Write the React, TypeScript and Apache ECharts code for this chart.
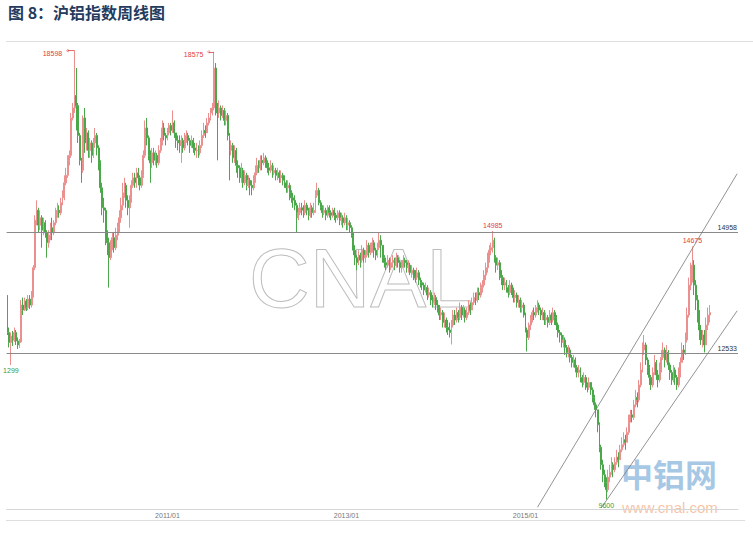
import React, { useEffect, useRef } from 'react';
import * as echarts from 'echarts';

const START_UTC = Date.UTC(2009, 2, 27);
const CATEGORY_COUNT = 425;
const tickLabels = ['2011/01', '2013/01', '2015/01'];
const firstOpen = 13500;

const closes = [
  12950, 12750, 12880, 12800, 12950, 12780, 12700, 12760, 13500, 13400,
  13580, 13450, 13620, 13500, 13700, 14250, 15200, 15400, 15100, 15250,
  15000, 15150, 14950, 14750, 14900, 15050, 14950, 15150, 15300, 15400,
  15350, 15550, 15650, 15950, 16100, 16400, 16500, 17250, 17450, 17700,
  17500, 16900, 16400, 16200, 17250, 16750, 16950, 16600, 16750, 16500,
  16750, 16900, 16650, 16350, 15850, 15450, 15400, 14800, 14750, 14450,
  14700, 14850, 14650, 14900, 15050, 15250, 15500, 15750, 15900, 15600,
  15450, 15650, 15900, 16050, 15950, 16150, 16050, 15900, 16100, 16500,
  17050, 16850, 16500, 16350, 16550, 16400, 16500, 16350, 16600, 16750,
  17050, 16900, 16850, 16950, 17100, 17000, 17150, 16950, 16800, 16750,
  16700, 16800, 16650, 16850, 16900, 16800, 16700, 16800, 16650, 16600,
  16600, 16550, 16700, 16900, 17000, 16950, 17150, 17250, 17350, 17450,
  18250, 17450, 17350, 17450, 17300, 17400, 17200, 17300, 16900, 16600,
  16700, 16450, 16600, 16300, 16250, 16050, 16200, 15950, 16100, 15900,
  16000, 15900, 15850, 16000, 16150, 16300, 16250, 16400, 16350, 16450,
  16350, 16250, 16200, 16300, 16150, 16200, 16100, 16150, 16050, 16100,
  16000, 15950, 15850, 15900, 15750, 15650, 15600, 15500, 15250, 15350,
  15450, 15400, 15350, 15500, 15400, 15300, 15450, 15350, 15400, 15700,
  15800, 15550, 15450, 15350, 15400, 15300, 15450, 15350, 15300, 15400,
  15300, 15250, 15350, 15200, 15250, 15150, 15250, 15100, 15150, 15050,
  14900, 14600, 14450, 14350, 14500, 14400, 14600, 14450, 14500, 14700,
  14550, 14650, 14750, 14600, 14500, 14650, 14800, 14700, 14450, 14350,
  14300, 14400, 14250, 14350, 14400, 14300, 14450, 14350, 14250, 14300,
  14400, 14350, 14250, 14300, 14150, 14200, 14100, 14050, 14150, 14000,
  13950, 13900, 13800, 13850, 13700, 13750, 13600, 13550, 13650, 13500,
  13450, 13300, 13350, 13150, 13200, 13050, 13000, 12950, 13100, 13300,
  13200, 13350, 13250, 13450, 13300, 13400, 13250, 13350, 13500, 13400,
  13550, 13650, 13600, 13750, 13700, 13850, 13900, 14100, 14250, 14400,
  14600, 14650, 14800, 14450, 14300, 14350, 14100, 14050, 13900, 13950,
  13850, 13750, 13900, 13800, 13650, 13700, 13550, 13600, 13450, 13500,
  13300, 13000, 12850, 13100, 13200, 13350, 13300, 13450, 13500, 13400,
  13300, 13350, 13200, 13250, 13150, 13300, 13200, 13350, 13250, 13100,
  12950, 12900, 12750, 12800, 12650, 12550, 12600, 12450, 12350, 12400,
  12250, 12150, 12200, 12050, 11950, 12050, 11900, 11850, 11950, 11800,
  11650, 11500, 11400, 11100, 10650, 10300, 10100, 9950, 9800, 10050,
  10150, 10300, 10200, 10350, 10450, 10400, 10600, 10700, 10800, 10750,
  10950, 11150, 11300, 11250, 11500, 11650, 11600, 11900, 12200, 12600,
  12700, 12400, 12250, 12050, 11900, 12150, 12350, 12100, 12000, 12200,
  12450, 12600, 12400, 12550, 12300, 12150, 12000, 12200, 12050, 11900,
  12100, 12350, 12600, 12550, 12800, 13300, 13900, 14100, 14300, 13900,
  13600, 13300, 13000, 12800, 12900, 12700, 13100, 13300, 13350,
];

const highs = [
  13700, 13050, 12950, 12980, 13050, 13000, 12850, 12820, 13600, 13650,
  13650, 13620, 13700, 13700, 13780, 14300, 15300, 15600, 15450, 15400,
  15300, 15250, 15200, 15000, 15000, 15150, 15250, 15200, 15450, 15550,
  15500, 15650, 15800, 16100, 16250, 16500, 16600, 17350, 17550, 18598,
  18250, 17550, 16950, 16450, 17300, 17450, 17050, 17000, 16850, 16800,
  16850, 17050, 16950, 16700, 16400, 15950, 15650, 15450, 15000, 14850,
  14800, 14950, 14950, 15050, 15150, 15400, 15650, 15950, 16050, 15950,
  15700, 15700, 16000, 16150, 16150, 16250, 16250, 16100, 16200, 16600,
  17200, 17250, 16900, 16600, 16650, 16650, 16600, 16550, 16700, 16850,
  17200, 17150, 16950, 17050, 17150, 17150, 17400, 17200, 16950, 16900,
  16900, 16900, 16850, 16950, 17000, 16950, 16850, 16900, 16850, 16750,
  16750, 16700, 16800, 17000, 17150, 17100, 17250, 17350, 17450, 17550,
  18575, 18350, 17550, 17600, 17500, 17500, 17450, 17400, 17350, 16950,
  16800, 16750, 16700, 16650, 16400, 16300, 16350, 16250, 16200, 16150,
  16100, 16050, 16000, 16100, 16300, 16450, 16400, 16500, 16500, 16550,
  16500, 16400, 16350, 16400, 16350, 16300, 16250, 16250, 16200, 16200,
  16150, 16100, 16000, 16000, 15950, 15800, 15750, 15700, 15550, 15450,
  15550, 15550, 15500, 15600, 15550, 15450, 15550, 15500, 15550, 15800,
  15950, 15850, 15600, 15500, 15500, 15450, 15500, 15500, 15400, 15450,
  15450, 15350, 15400, 15400, 15350, 15300, 15350, 15300, 15250, 15200,
  15100, 14950, 14700, 14500, 14600, 14550, 14700, 14650, 14600, 14800,
  14750, 14750, 14850, 14800, 14650, 14750, 14950, 14900, 14700, 14500,
  14450, 14500, 14450, 14450, 14500, 14450, 14550, 14500, 14400, 14400,
  14500, 14450, 14400, 14400, 14350, 14300, 14250, 14200, 14250, 14200,
  14050, 14000, 13950, 13950, 13900, 13850, 13800, 13700, 13750, 13700,
  13600, 13500, 13450, 13400, 13350, 13250, 13200, 13150, 13200, 13400,
  13400, 13450, 13400, 13550, 13500, 13500, 13450, 13450, 13600, 13550,
  13650, 13750, 13750, 13850, 13850, 13950, 14000, 14200, 14350, 14550,
  14700, 14750, 14985, 14850, 14500, 14450, 14400, 14200, 14100, 14050,
  14000, 13900, 14000, 13950, 13850, 13800, 13750, 13700, 13650, 13600,
  13550, 13350, 13050, 13150, 13300, 13400, 13450, 13500, 13600, 13550,
  13450, 13450, 13400, 13350, 13300, 13400, 13350, 13450, 13400, 13300,
  13150, 13000, 12950, 12900, 12850, 12700, 12700, 12650, 12500, 12500,
  12450, 12300, 12300, 12250, 12100, 12150, 12100, 11950, 12050, 11950,
  11850, 11700, 11550, 11400, 11150, 10700, 10400, 10200, 10050, 10200,
  10300, 10450, 10350, 10450, 10600, 10550, 10700, 10850, 10950, 10900,
  11050, 11300, 11400, 11400, 11600, 11800, 11750, 12000, 12350, 12750,
  12900, 12750, 12450, 12300, 12100, 12250, 12500, 12400, 12200, 12350,
  12600, 12750, 12650, 12700, 12600, 12350, 12200, 12300, 12250, 12100,
  12250, 12450, 12750, 12700, 12950, 13450, 14050, 14350, 14675, 14400,
  14000, 13700, 13400, 13100, 13000, 13000, 13250, 13450, 13500,
];

const lows = [
  12900, 12650, 12299, 12680, 12760, 12700, 12620, 12640, 12740, 13300,
  13380, 13380, 13400, 13420, 13450, 13650, 14200, 15100, 14950, 15000,
  14650, 14900, 14850, 14450, 14650, 14800, 14800, 14900, 15100, 15250,
  15250, 15300, 15500, 15600, 15900, 16050, 16300, 16450, 17200, 17350,
  17000, 16750, 16300, 15950, 16150, 16550, 16600, 16450, 16450, 16350,
  16450, 16650, 16500, 16200, 15750, 15300, 15150, 14700, 14500, 13850,
  14400, 14600, 14550, 14600, 14800, 14950, 15150, 15400, 15650, 15450,
  15300, 15050, 15550, 15850, 15850, 15850, 15900, 15800, 15850, 16050,
  16450, 16700, 16400, 15950, 16250, 16300, 16300, 16250, 16300, 16550,
  16700, 16800, 16700, 16800, 16900, 16900, 16950, 16850, 16650, 16600,
  16550, 16350, 16550, 16600, 16750, 16700, 16550, 16650, 16550, 16500,
  16450, 16450, 16500, 16650, 16850, 16850, 16950, 17100, 17200, 17300,
  17400, 17300, 16400, 17250, 17200, 17250, 17100, 17100, 16800, 16000,
  16500, 16350, 16350, 16150, 16050, 15950, 15950, 15850, 15900, 15800,
  15850, 15700, 15700, 15800, 15950, 16100, 16150, 16200, 16200, 16300,
  16250, 16150, 16100, 16150, 16050, 16100, 16000, 16000, 15950, 15950,
  15900, 15850, 15750, 15750, 15600, 15550, 15450, 15400, 14950, 15200,
  15300, 15300, 15250, 15300, 15300, 15200, 15250, 15250, 15300, 15350,
  15650, 15500, 15400, 15250, 15300, 15200, 15250, 15250, 15200, 15250,
  15200, 15150, 15200, 15100, 15100, 15050, 15100, 15000, 15000, 14950,
  14850, 14500, 14300, 14200, 14300, 14250, 14350, 14350, 14350, 14450,
  14450, 14500, 14550, 14450, 14400, 14450, 14600, 14450, 14350, 14250,
  14200, 14250, 14150, 14200, 14250, 14200, 14250, 14250, 14150, 14150,
  14250, 14250, 14150, 14150, 14100, 14050, 14000, 13950, 14000, 13900,
  13850, 13800, 13700, 13750, 13600, 13650, 13500, 13450, 13500, 13400,
  13350, 13200, 13200, 13050, 13050, 12950, 12900, 12850, 12710, 13050,
  13100, 13150, 13150, 13200, 13200, 13250, 13150, 13200, 13300, 13300,
  13450, 13500, 13500, 13550, 13600, 13650, 13750, 13850, 14000, 14150,
  14350, 14500, 14550, 14350, 14150, 14200, 14000, 13900, 13800, 13800,
  13750, 13650, 13700, 13700, 13550, 13550, 13450, 13450, 13350, 13350,
  13250, 12950, 12570, 12800, 13000, 13150, 13200, 13250, 13350, 13300,
  13200, 13200, 13100, 13100, 13050, 13100, 13100, 13150, 13100, 13000,
  12850, 12750, 12650, 12650, 12500, 12450, 12450, 12350, 12250, 12250,
  12150, 12050, 12050, 11950, 11850, 11900, 11800, 11750, 11800, 11700,
  11550, 11400, 11250, 10950, 10550, 10200, 9950, 9850, 9600, 9750,
  9950, 10100, 10050, 10150, 10300, 10250, 10400, 10550, 10650, 10600,
  10800, 10900, 11150, 11150, 11200, 11450, 11450, 11550, 11850, 12150,
  12500, 12300, 12100, 11900, 11800, 11850, 12100, 12000, 11850, 11950,
  12150, 12400, 12250, 12350, 12200, 12000, 11900, 11950, 11900, 11800,
  11850, 12050, 12400, 12400, 12500, 12750, 13250, 13800, 13950, 13700,
  13400, 13150, 12800, 12700, 12650, 12550, 12700, 13000, 13150,
];

// horizontal support / resistance levels
const levelLines = [14958, 12533];
// trend channel lines: [categoryIndex, price] end points
const channelUpper = [[308, 9449], [424, 16132]];
const channelLower = [[345, 9433], [424, 13385]];
// labelled extremes
const sideLabels = [
  { index: 39, from: 35, value: 18598, text: '18598' },
  { index: 120, from: 117, value: 18575, text: '18575' },
];
const topLabels = [
  { index: 282, value: 14985, text: '14985' },
  { index: 398, value: 14675, text: '14675' },
];
const bottomLabels = [
  { index: 2, value: 12299, text: '1299' },
  { index: 348, value: 9600, text: '9600' },
];

function buildCategories(): string[] {
  const out: string[] = [];
  for (let i = 0; i < CATEGORY_COUNT; i++) {
    const d = new Date(START_UTC + i * 7 * 86400000);
    const m = String(d.getUTCMonth() + 1).padStart(2, '0');
    const day = String(d.getUTCDate()).padStart(2, '0');
    out.push(`${d.getUTCFullYear()}/${m}/${day}`);
  }
  return out;
}

export default function App() {
  const ref = useRef<HTMLDivElement>(null);
  useEffect(() => {
    if (!ref.current) return;
    const chart = echarts.init(ref.current, null, { renderer: 'svg' });
    const categories = buildCategories();
    const labelIdx = new Set<number>();
    tickLabels.forEach((t) => {
      const k = categories.findIndex((c) => c.startsWith(t));
      if (k >= 0) labelIdx.add(k);
    });
    const candles = closes.map((c, i) => {
      const o = i === 0 ? firstOpen : closes[i - 1];
      const h = Math.max(highs[i], o, c);
      const l = Math.min(lows[i], o, c);
      return [o, c, l, h];
    });

    const red = '#e04040';
    const green = '#3a9a3a';
    const markLineData: any[] = [];
    levelLines.forEach((v) => {
      markLineData.push({
        yAxis: v,
        lineStyle: { color: '#8a8a8a', width: 1, type: 'solid' },
        label: {
          show: true,
          position: 'insideEndTop',
          formatter: String(v),
          color: '#333',
          fontSize: 7,
          fontFamily: 'Liberation Sans',
          distance: 1,
        },
      });
    });
    [channelUpper, channelLower].forEach((seg) => {
      markLineData.push([
        { coord: seg[0], lineStyle: { color: '#777', width: 0.8, type: 'solid' }, label: { show: false } },
        { coord: seg[1] },
      ]);
    });
    sideLabels.forEach((s) => {
      markLineData.push([
        { coord: [s.from, s.value], lineStyle: { color: red, width: 0.8, type: 'solid' }, label: { show: false } },
        { coord: [s.index, s.value] },
      ]);
    });

    const markPointData: any[] = [];
    sideLabels.forEach((s) => {
      markPointData.push({
        coord: [s.from, s.value],
        symbol: 'circle',
        symbolSize: 2,
        itemStyle: { color: 'none', borderColor: red, borderWidth: 0.5 },
        label: {
          show: true,
          position: 'left',
          distance: 2,
          formatter: s.text,
          color: red,
          fontSize: 7,
          fontFamily: 'Liberation Sans',
          offset: [0, 3],
        },
      });
    });
    topLabels.forEach((s) => {
      markPointData.push({
        coord: [s.index, s.value],
        symbolSize: 0,
        label: {
          show: true,
          position: 'top',
          distance: 2,
          formatter: s.text,
          color: red,
          fontSize: 7,
          fontFamily: 'Liberation Sans',
        },
      });
    });
    bottomLabels.forEach((s) => {
      markPointData.push({
        coord: [s.index, s.value],
        symbolSize: 0,
        label: {
          show: true,
          position: 'bottom',
          distance: 2,
          formatter: s.text,
          color: green,
          fontSize: 7,
          fontFamily: 'Liberation Sans',
        },
      });
    });

    chart.setOption({
      animation: false,
      backgroundColor: '#ffffff',
      grid: { left: 6.6, right: 15, top: 41, bottom: 24, containLabel: false },
      xAxis: {
        type: 'category',
        data: categories,
        boundaryGap: true,
        axisLine: { show: true, lineStyle: { color: '#d6d6d6', width: 1 } },
        axisTick: { show: false },
        splitLine: { show: false },
        axisLabel: {
          interval: (idx: number) => labelIdx.has(idx),
          formatter: (v: string) => v.slice(0, 7),
          color: '#777',
          fontSize: 7,
          fontFamily: 'Liberation Sans',
          margin: 3,
        },
      },
      yAxis: {
        type: 'value',
        min: 9413,
        max: 18792,
        show: false,
        splitLine: { show: false },
      },
      graphic: [
        {
          type: 'text',
          left: 8,
          top: 4,
          style: {
            text: '图 8：沪铝指数周线图',
            font: 'bold 16px "Noto Sans CJK SC"',
            fill: '#243b5e',
          },
        },
        {
          type: 'line',
          shape: { x1: 6, y1: 41.5, x2: 753, y2: 41.5 },
          style: { stroke: '#dedede', lineWidth: 1 },
        },
        {
          type: 'line',
          shape: { x1: 6, y1: 520.5, x2: 745, y2: 520.5 },
          style: { stroke: '#dedede', lineWidth: 1 },
        },
        {
          type: 'text',
          x: 249,
          y: 236,
          z: -10,
          style: {
            text: 'CNAL',
            font: '84px "Liberation Sans"',
            fill: 'rgba(255,255,255,0)',
            stroke: '#bdbdbd',
            lineWidth: 1,
          },
        },
        {
          type: 'text',
          x: 621,
          y: 457,
          z: -10,
          style: {
            text: '中铝网',
            font: 'bold 32px "Noto Sans CJK SC"',
            fill: 'rgba(150,190,225,0.85)',
          },
        },
        {
          type: 'text',
          x: 622,
          y: 500,
          z: -10,
          style: {
            text: 'www.cnal.com',
            font: '15px "Liberation Sans"',
            fill: 'rgba(245,185,150,0.85)',
          },
        },
      ],
      series: [
        {
          type: 'candlestick',
          data: candles,
          barWidth: 1.4,
          itemStyle: {
            color: '#ef9a9a',
            color0: '#5cb85c',
            borderColor: '#ec8f8f',
            borderColor0: '#4aa84a',
            borderWidth: 1,
          },
          markLine: {
            silent: true,
            symbol: ['none', 'none'],
            animation: false,
            data: markLineData,
          },
          markPoint: {
            silent: true,
            animation: false,
            data: markPointData,
          },
        },
      ],
    });
    return () => chart.dispose();
  }, []);
  return <div ref={ref} style={{ position: 'fixed', left: 0, top: 0, width: 753, height: 533 }} />;
}
